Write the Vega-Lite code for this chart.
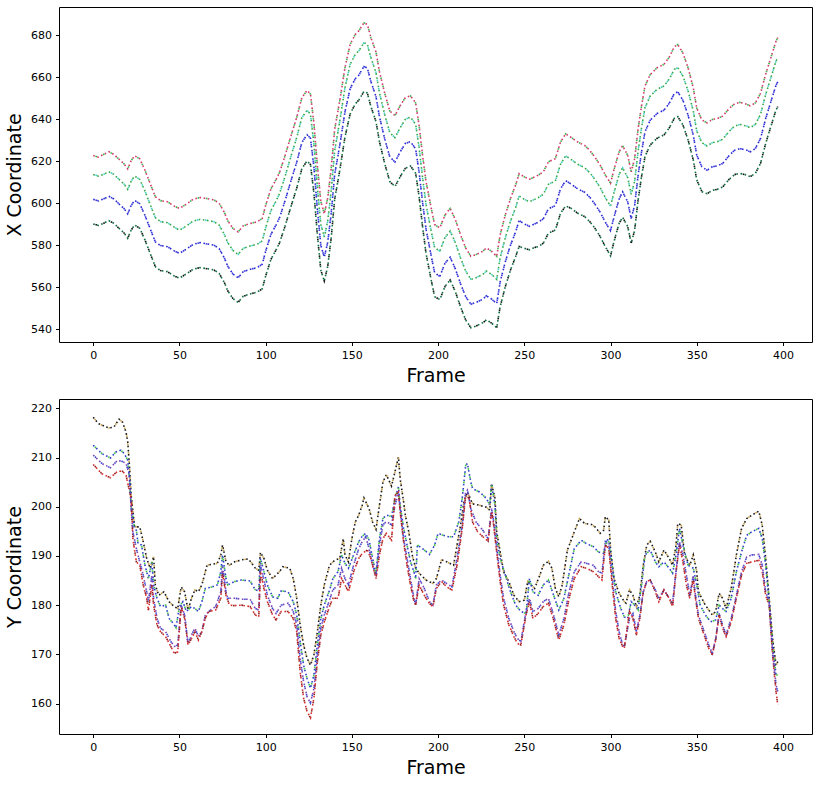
{"$schema":"https://vega.github.io/schema/vega-lite/v6.json","padding":{"left":5,"top":6,"right":12,"bottom":0},"spacing":12,
"config":{"view":{"stroke":"#000","strokeWidth":1},"font":"DejaVu Sans","axis":{"labelFont":"DejaVu Sans","titleFont":"DejaVu Sans","labelFontSize":11,"titleFontSize":19,"titleFontWeight":"normal","labelColor":"#000","titleColor":"#000","tickColor":"#000","tickSize":3.5,"domain":false,"grid":false,"labelPadding":4,"titlePadding":6}},
"datasets":{"top":[
{"s":"L2","f":0,"v":613.8},{"s":"L2","f":3,"v":613.0},{"s":"L2","f":6,"v":613.8},{"s":"L2","f":9,"v":615.1},{"s":"L2","f":12,"v":613.8},{"s":"L2","f":15,"v":611.4},{"s":"L2","f":18,"v":609.1},{"s":"L2","f":20,"v":606.7},{"s":"L2","f":22,"v":610.6},{"s":"L2","f":24,"v":613.0},{"s":"L2","f":27,"v":611.4},{"s":"L2","f":30,"v":605.9},{"s":"L2","f":33,"v":599.5},{"s":"L2","f":36,"v":593.2},{"s":"L2","f":39,"v":591.3},{"s":"L2","f":43,"v":590.8},{"s":"L2","f":47,"v":588.7},{"s":"L2","f":50,"v":587.2},{"s":"L2","f":54,"v":589.2},{"s":"L2","f":58,"v":591.6},{"s":"L2","f":62,"v":592.4},{"s":"L2","f":66,"v":591.9},{"s":"L2","f":70,"v":591.3},{"s":"L2","f":73,"v":589.7},{"s":"L2","f":76,"v":585.3},{"s":"L2","f":78,"v":581.3},{"s":"L2","f":81,"v":577.6},{"s":"L2","f":84,"v":575.7},{"s":"L2","f":87,"v":578.6},{"s":"L2","f":91,"v":579.7},{"s":"L2","f":95,"v":580.5},{"s":"L2","f":98,"v":582.1},{"s":"L2","f":100,"v":588.4},{"s":"L2","f":103,"v":596.4},{"s":"L2","f":106,"v":601.1},{"s":"L2","f":108,"v":604.6},{"s":"L2","f":111,"v":612.2},{"s":"L2","f":115,"v":623.3},{"s":"L2","f":118,"v":631.3},{"s":"L2","f":121,"v":640.8},{"s":"L2","f":124,"v":644.3},{"s":"L2","f":126,"v":642.4},{"s":"L2","f":128,"v":628.1},{"s":"L2","f":130,"v":607.5},{"s":"L2","f":132,"v":590.0},{"s":"L2","f":134,"v":584.0},{"s":"L2","f":136,"v":591.6},{"s":"L2","f":138,"v":605.9},{"s":"L2","f":140,"v":624.9},{"s":"L2","f":143,"v":639.2},{"s":"L2","f":146,"v":655.1},{"s":"L2","f":149,"v":666.2},{"s":"L2","f":152,"v":671.0},{"s":"L2","f":154,"v":672.6},{"s":"L2","f":157,"v":676.5},{"s":"L2","f":159,"v":675.7},{"s":"L2","f":161,"v":669.4},{"s":"L2","f":164,"v":662.2},{"s":"L2","f":166,"v":652.7},{"s":"L2","f":169,"v":642.4},{"s":"L2","f":172,"v":633.7},{"s":"L2","f":175,"v":631.3},{"s":"L2","f":178,"v":636.0},{"s":"L2","f":181,"v":640.0},{"s":"L2","f":184,"v":641.1},{"s":"L2","f":187,"v":637.6},{"s":"L2","f":189,"v":626.5},{"s":"L2","f":191,"v":612.2},{"s":"L2","f":193,"v":599.5},{"s":"L2","f":196,"v":586.8},{"s":"L2","f":198,"v":578.9},{"s":"L2","f":201,"v":577.3},{"s":"L2","f":204,"v":583.7},{"s":"L2","f":207,"v":586.8},{"s":"L2","f":210,"v":581.3},{"s":"L2","f":213,"v":574.1},{"s":"L2","f":216,"v":567.8},{"s":"L2","f":219,"v":563.8},{"s":"L2","f":222,"v":564.6},{"s":"L2","f":226,"v":566.2},{"s":"L2","f":228,"v":567.8},{"s":"L2","f":231,"v":566.2},{"s":"L2","f":234,"v":563.8},{"s":"L2","f":236,"v":574.1},{"s":"L2","f":239,"v":583.7},{"s":"L2","f":242,"v":591.6},{"s":"L2","f":245,"v":598.0},{"s":"L2","f":247,"v":603.5},{"s":"L2","f":250,"v":601.9},{"s":"L2","f":253,"v":600.8},{"s":"L2","f":256,"v":601.9},{"s":"L2","f":258,"v":602.7},{"s":"L2","f":261,"v":604.3},{"s":"L2","f":264,"v":609.1},{"s":"L2","f":268,"v":610.6},{"s":"L2","f":271,"v":618.6},{"s":"L2","f":274,"v":622.6},{"s":"L2","f":277,"v":621.0},{"s":"L2","f":281,"v":618.6},{"s":"L2","f":285,"v":617.0},{"s":"L2","f":288,"v":614.6},{"s":"L2","f":291,"v":611.4},{"s":"L2","f":294,"v":607.5},{"s":"L2","f":297,"v":602.7},{"s":"L2","f":300,"v":598.7},{"s":"L2","f":302,"v":605.1},{"s":"L2","f":305,"v":613.8},{"s":"L2","f":307,"v":617.0},{"s":"L2","f":310,"v":612.2},{"s":"L2","f":312,"v":604.3},{"s":"L2","f":314,"v":610.6},{"s":"L2","f":316,"v":624.9},{"s":"L2","f":318,"v":636.0},{"s":"L2","f":320,"v":645.6},{"s":"L2","f":323,"v":651.1},{"s":"L2","f":327,"v":654.3},{"s":"L2","f":331,"v":655.9},{"s":"L2","f":334,"v":659.1},{"s":"L2","f":337,"v":663.8},{"s":"L2","f":339,"v":664.6},{"s":"L2","f":342,"v":660.6},{"s":"L2","f":345,"v":653.5},{"s":"L2","f":348,"v":644.0},{"s":"L2","f":350,"v":634.5},{"s":"L2","f":353,"v":628.9},{"s":"L2","f":356,"v":627.3},{"s":"L2","f":359,"v":628.9},{"s":"L2","f":362,"v":629.4},{"s":"L2","f":365,"v":630.5},{"s":"L2","f":369,"v":634.5},{"s":"L2","f":372,"v":636.8},{"s":"L2","f":375,"v":637.6},{"s":"L2","f":379,"v":636.8},{"s":"L2","f":381,"v":636.0},{"s":"L2","f":384,"v":637.6},{"s":"L2","f":387,"v":642.4},{"s":"L2","f":390,"v":651.9},{"s":"L2","f":393,"v":659.9},{"s":"L2","f":396,"v":667.8},{"s":"L2","f":397,"v":669.4},
{"s":"L1","f":0,"v":622.8},{"s":"L1","f":3,"v":622.0},{"s":"L1","f":6,"v":623.3},{"s":"L1","f":9,"v":624.6},{"s":"L1","f":12,"v":623.3},{"s":"L1","f":15,"v":621.0},{"s":"L1","f":18,"v":618.7},{"s":"L1","f":20,"v":616.4},{"s":"L1","f":22,"v":620.3},{"s":"L1","f":24,"v":622.7},{"s":"L1","f":27,"v":621.2},{"s":"L1","f":30,"v":615.8},{"s":"L1","f":33,"v":609.5},{"s":"L1","f":36,"v":603.2},{"s":"L1","f":39,"v":601.3},{"s":"L1","f":43,"v":600.8},{"s":"L1","f":47,"v":598.7},{"s":"L1","f":50,"v":597.6},{"s":"L1","f":54,"v":599.6},{"s":"L1","f":58,"v":602.0},{"s":"L1","f":62,"v":602.8},{"s":"L1","f":66,"v":602.3},{"s":"L1","f":70,"v":601.7},{"s":"L1","f":73,"v":600.1},{"s":"L1","f":76,"v":595.8},{"s":"L1","f":78,"v":591.8},{"s":"L1","f":81,"v":588.1},{"s":"L1","f":84,"v":586.4},{"s":"L1","f":87,"v":589.3},{"s":"L1","f":91,"v":590.4},{"s":"L1","f":95,"v":591.2},{"s":"L1","f":98,"v":592.8},{"s":"L1","f":100,"v":599.0},{"s":"L1","f":103,"v":606.8},{"s":"L1","f":106,"v":611.3},{"s":"L1","f":108,"v":614.6},{"s":"L1","f":111,"v":622.0},{"s":"L1","f":115,"v":633.0},{"s":"L1","f":118,"v":640.9},{"s":"L1","f":121,"v":650.3},{"s":"L1","f":124,"v":653.8},{"s":"L1","f":126,"v":652.0},{"s":"L1","f":128,"v":638.0},{"s":"L1","f":130,"v":617.9},{"s":"L1","f":132,"v":600.9},{"s":"L1","f":134,"v":595.0},{"s":"L1","f":136,"v":602.6},{"s":"L1","f":138,"v":616.5},{"s":"L1","f":140,"v":635.2},{"s":"L1","f":143,"v":649.0},{"s":"L1","f":146,"v":664.6},{"s":"L1","f":149,"v":675.7},{"s":"L1","f":152,"v":680.5},{"s":"L1","f":154,"v":682.1},{"s":"L1","f":157,"v":686.0},{"s":"L1","f":159,"v":685.2},{"s":"L1","f":161,"v":679.0},{"s":"L1","f":164,"v":672.0},{"s":"L1","f":166,"v":662.7},{"s":"L1","f":169,"v":652.6},{"s":"L1","f":172,"v":644.0},{"s":"L1","f":175,"v":641.8},{"s":"L1","f":178,"v":646.5},{"s":"L1","f":181,"v":650.3},{"s":"L1","f":184,"v":651.2},{"s":"L1","f":187,"v":647.8},{"s":"L1","f":189,"v":637.0},{"s":"L1","f":191,"v":622.9},{"s":"L1","f":193,"v":610.4},{"s":"L1","f":196,"v":597.8},{"s":"L1","f":198,"v":589.9},{"s":"L1","f":201,"v":588.3},{"s":"L1","f":204,"v":594.5},{"s":"L1","f":207,"v":597.6},{"s":"L1","f":210,"v":592.3},{"s":"L1","f":213,"v":585.1},{"s":"L1","f":216,"v":578.8},{"s":"L1","f":219,"v":574.8},{"s":"L1","f":222,"v":575.6},{"s":"L1","f":226,"v":577.2},{"s":"L1","f":228,"v":578.8},{"s":"L1","f":231,"v":577.2},{"s":"L1","f":234,"v":574.8},{"s":"L1","f":236,"v":585.0},{"s":"L1","f":239,"v":594.6},{"s":"L1","f":242,"v":602.4},{"s":"L1","f":245,"v":608.8},{"s":"L1","f":247,"v":614.2},{"s":"L1","f":250,"v":612.6},{"s":"L1","f":253,"v":611.5},{"s":"L1","f":256,"v":612.6},{"s":"L1","f":258,"v":613.4},{"s":"L1","f":261,"v":615.0},{"s":"L1","f":264,"v":619.8},{"s":"L1","f":268,"v":621.3},{"s":"L1","f":271,"v":629.2},{"s":"L1","f":274,"v":633.1},{"s":"L1","f":277,"v":631.5},{"s":"L1","f":281,"v":629.2},{"s":"L1","f":285,"v":627.6},{"s":"L1","f":288,"v":625.2},{"s":"L1","f":291,"v":622.0},{"s":"L1","f":294,"v":618.2},{"s":"L1","f":297,"v":613.5},{"s":"L1","f":300,"v":609.6},{"s":"L1","f":302,"v":616.0},{"s":"L1","f":305,"v":624.5},{"s":"L1","f":307,"v":627.5},{"s":"L1","f":310,"v":622.8},{"s":"L1","f":312,"v":615.0},{"s":"L1","f":314,"v":621.3},{"s":"L1","f":316,"v":635.5},{"s":"L1","f":318,"v":646.4},{"s":"L1","f":320,"v":655.9},{"s":"L1","f":323,"v":661.3},{"s":"L1","f":327,"v":664.6},{"s":"L1","f":331,"v":666.2},{"s":"L1","f":334,"v":669.5},{"s":"L1","f":337,"v":674.6},{"s":"L1","f":339,"v":675.6},{"s":"L1","f":342,"v":671.6},{"s":"L1","f":345,"v":664.5},{"s":"L1","f":348,"v":655.0},{"s":"L1","f":350,"v":645.4},{"s":"L1","f":353,"v":639.7},{"s":"L1","f":356,"v":638.3},{"s":"L1","f":359,"v":639.9},{"s":"L1","f":362,"v":640.4},{"s":"L1","f":365,"v":641.5},{"s":"L1","f":369,"v":645.3},{"s":"L1","f":372,"v":647.4},{"s":"L1","f":375,"v":648.1},{"s":"L1","f":379,"v":647.2},{"s":"L1","f":381,"v":646.4},{"s":"L1","f":384,"v":647.8},{"s":"L1","f":387,"v":652.4},{"s":"L1","f":390,"v":661.6},{"s":"L1","f":393,"v":669.4},{"s":"L1","f":396,"v":677.3},{"s":"L1","f":397,"v":678.9},
{"s":"L3","f":0,"v":601.9},{"s":"L3","f":3,"v":601.2},{"s":"L3","f":6,"v":602.1},{"s":"L3","f":9,"v":603.4},{"s":"L3","f":12,"v":602.1},{"s":"L3","f":15,"v":599.7},{"s":"L3","f":18,"v":597.4},{"s":"L3","f":20,"v":595.0},{"s":"L3","f":22,"v":599.0},{"s":"L3","f":24,"v":601.4},{"s":"L3","f":27,"v":599.8},{"s":"L3","f":30,"v":594.3},{"s":"L3","f":33,"v":588.0},{"s":"L3","f":36,"v":581.7},{"s":"L3","f":39,"v":579.9},{"s":"L3","f":43,"v":579.4},{"s":"L3","f":47,"v":577.4},{"s":"L3","f":50,"v":576.2},{"s":"L3","f":54,"v":578.2},{"s":"L3","f":58,"v":580.5},{"s":"L3","f":62,"v":581.3},{"s":"L3","f":66,"v":580.7},{"s":"L3","f":70,"v":580.1},{"s":"L3","f":73,"v":578.5},{"s":"L3","f":76,"v":574.1},{"s":"L3","f":78,"v":570.1},{"s":"L3","f":81,"v":566.4},{"s":"L3","f":84,"v":564.6},{"s":"L3","f":87,"v":567.5},{"s":"L3","f":91,"v":568.6},{"s":"L3","f":95,"v":569.4},{"s":"L3","f":98,"v":571.0},{"s":"L3","f":100,"v":577.2},{"s":"L3","f":103,"v":585.1},{"s":"L3","f":106,"v":589.7},{"s":"L3","f":108,"v":593.1},{"s":"L3","f":111,"v":600.6},{"s":"L3","f":115,"v":611.6},{"s":"L3","f":118,"v":619.5},{"s":"L3","f":121,"v":629.0},{"s":"L3","f":124,"v":632.7},{"s":"L3","f":126,"v":631.0},{"s":"L3","f":128,"v":617.2},{"s":"L3","f":130,"v":597.0},{"s":"L3","f":132,"v":580.0},{"s":"L3","f":134,"v":574.4},{"s":"L3","f":136,"v":581.5},{"s":"L3","f":138,"v":595.1},{"s":"L3","f":140,"v":613.7},{"s":"L3","f":143,"v":627.7},{"s":"L3","f":146,"v":643.6},{"s":"L3","f":149,"v":654.6},{"s":"L3","f":152,"v":659.4},{"s":"L3","f":154,"v":661.0},{"s":"L3","f":157,"v":665.2},{"s":"L3","f":159,"v":664.4},{"s":"L3","f":161,"v":658.1},{"s":"L3","f":164,"v":650.8},{"s":"L3","f":166,"v":641.3},{"s":"L3","f":169,"v":630.9},{"s":"L3","f":172,"v":622.1},{"s":"L3","f":175,"v":619.7},{"s":"L3","f":178,"v":624.5},{"s":"L3","f":181,"v":628.5},{"s":"L3","f":184,"v":629.4},{"s":"L3","f":187,"v":625.9},{"s":"L3","f":189,"v":614.8},{"s":"L3","f":191,"v":600.5},{"s":"L3","f":193,"v":587.8},{"s":"L3","f":196,"v":575.0},{"s":"L3","f":198,"v":567.0},{"s":"L3","f":201,"v":565.2},{"s":"L3","f":204,"v":571.5},{"s":"L3","f":207,"v":574.4},{"s":"L3","f":210,"v":568.8},{"s":"L3","f":213,"v":561.8},{"s":"L3","f":216,"v":555.6},{"s":"L3","f":219,"v":552.0},{"s":"L3","f":222,"v":552.8},{"s":"L3","f":226,"v":554.4},{"s":"L3","f":228,"v":556.0},{"s":"L3","f":231,"v":554.5},{"s":"L3","f":234,"v":552.3},{"s":"L3","f":236,"v":562.6},{"s":"L3","f":239,"v":572.2},{"s":"L3","f":242,"v":580.1},{"s":"L3","f":245,"v":586.5},{"s":"L3","f":247,"v":591.8},{"s":"L3","f":250,"v":590.2},{"s":"L3","f":253,"v":589.1},{"s":"L3","f":256,"v":590.2},{"s":"L3","f":258,"v":591.0},{"s":"L3","f":261,"v":592.6},{"s":"L3","f":264,"v":597.4},{"s":"L3","f":268,"v":598.9},{"s":"L3","f":271,"v":606.9},{"s":"L3","f":274,"v":610.8},{"s":"L3","f":277,"v":609.3},{"s":"L3","f":281,"v":606.9},{"s":"L3","f":285,"v":605.3},{"s":"L3","f":288,"v":602.9},{"s":"L3","f":291,"v":599.6},{"s":"L3","f":294,"v":595.8},{"s":"L3","f":297,"v":591.0},{"s":"L3","f":300,"v":587.0},{"s":"L3","f":302,"v":593.4},{"s":"L3","f":305,"v":602.1},{"s":"L3","f":307,"v":605.5},{"s":"L3","f":310,"v":600.7},{"s":"L3","f":312,"v":592.8},{"s":"L3","f":314,"v":599.1},{"s":"L3","f":316,"v":613.4},{"s":"L3","f":318,"v":624.5},{"s":"L3","f":320,"v":634.1},{"s":"L3","f":323,"v":639.6},{"s":"L3","f":327,"v":642.8},{"s":"L3","f":331,"v":644.4},{"s":"L3","f":334,"v":647.6},{"s":"L3","f":337,"v":652.3},{"s":"L3","f":339,"v":653.1},{"s":"L3","f":342,"v":649.1},{"s":"L3","f":345,"v":642.0},{"s":"L3","f":348,"v":632.5},{"s":"L3","f":350,"v":623.0},{"s":"L3","f":353,"v":617.4},{"s":"L3","f":356,"v":615.8},{"s":"L3","f":359,"v":617.4},{"s":"L3","f":362,"v":617.9},{"s":"L3","f":365,"v":619.0},{"s":"L3","f":369,"v":623.0},{"s":"L3","f":372,"v":625.3},{"s":"L3","f":375,"v":626.1},{"s":"L3","f":379,"v":625.3},{"s":"L3","f":381,"v":624.5},{"s":"L3","f":384,"v":626.1},{"s":"L3","f":387,"v":630.9},{"s":"L3","f":390,"v":640.4},{"s":"L3","f":393,"v":648.4},{"s":"L3","f":396,"v":656.3},{"s":"L3","f":397,"v":657.9},
{"s":"L4","f":0,"v":590.2},{"s":"L4","f":3,"v":589.5},{"s":"L4","f":6,"v":590.5},{"s":"L4","f":9,"v":591.8},{"s":"L4","f":12,"v":590.5},{"s":"L4","f":15,"v":588.1},{"s":"L4","f":18,"v":585.8},{"s":"L4","f":20,"v":583.4},{"s":"L4","f":22,"v":587.3},{"s":"L4","f":24,"v":589.7},{"s":"L4","f":27,"v":588.1},{"s":"L4","f":30,"v":582.6},{"s":"L4","f":33,"v":576.2},{"s":"L4","f":36,"v":569.9},{"s":"L4","f":39,"v":568.0},{"s":"L4","f":43,"v":567.5},{"s":"L4","f":47,"v":565.4},{"s":"L4","f":50,"v":564.4},{"s":"L4","f":54,"v":566.4},{"s":"L4","f":58,"v":568.7},{"s":"L4","f":62,"v":569.4},{"s":"L4","f":66,"v":568.9},{"s":"L4","f":70,"v":568.3},{"s":"L4","f":73,"v":566.7},{"s":"L4","f":76,"v":562.4},{"s":"L4","f":78,"v":558.4},{"s":"L4","f":81,"v":554.7},{"s":"L4","f":84,"v":552.9},{"s":"L4","f":87,"v":555.8},{"s":"L4","f":91,"v":556.9},{"s":"L4","f":95,"v":557.7},{"s":"L4","f":98,"v":559.3},{"s":"L4","f":100,"v":565.4},{"s":"L4","f":103,"v":573.3},{"s":"L4","f":106,"v":577.8},{"s":"L4","f":108,"v":581.1},{"s":"L4","f":111,"v":588.5},{"s":"L4","f":115,"v":599.4},{"s":"L4","f":118,"v":607.2},{"s":"L4","f":121,"v":616.5},{"s":"L4","f":124,"v":620.2},{"s":"L4","f":126,"v":618.5},{"s":"L4","f":128,"v":604.8},{"s":"L4","f":130,"v":585.0},{"s":"L4","f":132,"v":568.2},{"s":"L4","f":134,"v":563.0},{"s":"L4","f":136,"v":570.0},{"s":"L4","f":138,"v":583.5},{"s":"L4","f":140,"v":601.8},{"s":"L4","f":143,"v":615.8},{"s":"L4","f":146,"v":631.6},{"s":"L4","f":149,"v":642.6},{"s":"L4","f":152,"v":647.4},{"s":"L4","f":154,"v":649.1},{"s":"L4","f":157,"v":653.3},{"s":"L4","f":159,"v":652.5},{"s":"L4","f":161,"v":646.2},{"s":"L4","f":164,"v":638.9},{"s":"L4","f":166,"v":629.4},{"s":"L4","f":169,"v":619.1},{"s":"L4","f":172,"v":610.4},{"s":"L4","f":175,"v":608.0},{"s":"L4","f":178,"v":612.7},{"s":"L4","f":181,"v":616.7},{"s":"L4","f":184,"v":617.8},{"s":"L4","f":187,"v":614.3},{"s":"L4","f":189,"v":603.2},{"s":"L4","f":191,"v":588.9},{"s":"L4","f":193,"v":576.2},{"s":"L4","f":196,"v":563.5},{"s":"L4","f":198,"v":555.6},{"s":"L4","f":201,"v":554.2},{"s":"L4","f":204,"v":560.4},{"s":"L4","f":207,"v":563.5},{"s":"L4","f":210,"v":558.0},{"s":"L4","f":213,"v":550.8},{"s":"L4","f":216,"v":544.5},{"s":"L4","f":219,"v":540.8},{"s":"L4","f":222,"v":541.6},{"s":"L4","f":226,"v":543.2},{"s":"L4","f":228,"v":544.6},{"s":"L4","f":231,"v":543.0},{"s":"L4","f":234,"v":540.8},{"s":"L4","f":236,"v":550.8},{"s":"L4","f":239,"v":560.4},{"s":"L4","f":242,"v":568.3},{"s":"L4","f":245,"v":574.7},{"s":"L4","f":247,"v":579.5},{"s":"L4","f":250,"v":578.6},{"s":"L4","f":253,"v":577.9},{"s":"L4","f":256,"v":579.0},{"s":"L4","f":258,"v":579.4},{"s":"L4","f":261,"v":581.0},{"s":"L4","f":264,"v":585.8},{"s":"L4","f":268,"v":587.3},{"s":"L4","f":271,"v":595.3},{"s":"L4","f":274,"v":598.8},{"s":"L4","f":277,"v":597.7},{"s":"L4","f":281,"v":595.3},{"s":"L4","f":285,"v":593.7},{"s":"L4","f":288,"v":591.3},{"s":"L4","f":291,"v":588.1},{"s":"L4","f":294,"v":584.2},{"s":"L4","f":297,"v":579.4},{"s":"L4","f":300,"v":575.0},{"s":"L4","f":302,"v":581.8},{"s":"L4","f":305,"v":590.5},{"s":"L4","f":307,"v":593.4},{"s":"L4","f":310,"v":588.9},{"s":"L4","f":312,"v":581.0},{"s":"L4","f":314,"v":587.3},{"s":"L4","f":316,"v":601.6},{"s":"L4","f":318,"v":612.7},{"s":"L4","f":320,"v":622.3},{"s":"L4","f":323,"v":627.8},{"s":"L4","f":327,"v":631.0},{"s":"L4","f":331,"v":632.6},{"s":"L4","f":334,"v":635.8},{"s":"L4","f":337,"v":640.5},{"s":"L4","f":339,"v":641.3},{"s":"L4","f":342,"v":637.3},{"s":"L4","f":345,"v":630.2},{"s":"L4","f":348,"v":620.7},{"s":"L4","f":350,"v":611.2},{"s":"L4","f":353,"v":605.6},{"s":"L4","f":356,"v":604.6},{"s":"L4","f":359,"v":606.2},{"s":"L4","f":362,"v":606.7},{"s":"L4","f":365,"v":607.8},{"s":"L4","f":369,"v":611.6},{"s":"L4","f":372,"v":613.7},{"s":"L4","f":375,"v":614.3},{"s":"L4","f":379,"v":613.5},{"s":"L4","f":381,"v":612.7},{"s":"L4","f":384,"v":614.3},{"s":"L4","f":387,"v":619.1},{"s":"L4","f":390,"v":628.6},{"s":"L4","f":393,"v":636.6},{"s":"L4","f":396,"v":644.5},{"s":"L4","f":397,"v":646.1}
],
"bot":[
{"s":"K","f":0,"v":218.2},{"s":"K","f":3,"v":216.9},{"s":"K","f":9,"v":216.0},{"s":"K","f":12,"v":216.2},{"s":"K","f":15,"v":217.8},{"s":"K","f":17,"v":217.2},{"s":"K","f":19,"v":215.2},{"s":"K","f":20,"v":213.2},{"s":"K","f":21,"v":208.4},{"s":"K","f":22,"v":202.3},{"s":"K","f":24,"v":195.9},{"s":"K","f":27,"v":195.9},{"s":"K","f":29,"v":192.9},{"s":"K","f":31,"v":189.5},{"s":"K","f":33,"v":187.5},{"s":"K","f":35,"v":189.8},{"s":"K","f":36,"v":184.1},{"s":"K","f":38,"v":182.0},{"s":"K","f":41,"v":182.7},{"s":"K","f":44,"v":180.7},{"s":"K","f":47,"v":179.7},{"s":"K","f":49,"v":179.3},{"s":"K","f":51,"v":183.7},{"s":"K","f":53,"v":182.7},{"s":"K","f":55,"v":179.0},{"s":"K","f":57,"v":181.4},{"s":"K","f":59,"v":183.1},{"s":"K","f":61,"v":182.7},{"s":"K","f":63,"v":184.1},{"s":"K","f":66,"v":188.1},{"s":"K","f":69,"v":188.3},{"s":"K","f":72,"v":188.5},{"s":"K","f":74,"v":190.2},{"s":"K","f":75,"v":192.2},{"s":"K","f":77,"v":188.8},{"s":"K","f":79,"v":188.1},{"s":"K","f":82,"v":188.8},{"s":"K","f":86,"v":189.2},{"s":"K","f":90,"v":189.4},{"s":"K","f":92,"v":188.5},{"s":"K","f":94,"v":187.5},{"s":"K","f":96,"v":187.1},{"s":"K","f":97,"v":190.7},{"s":"K","f":99,"v":189.5},{"s":"K","f":101,"v":187.1},{"s":"K","f":104,"v":185.4},{"s":"K","f":108,"v":186.8},{"s":"K","f":110,"v":187.8},{"s":"K","f":114,"v":187.5},{"s":"K","f":116,"v":185.4},{"s":"K","f":118,"v":181.4},{"s":"K","f":120,"v":176.0},{"s":"K","f":122,"v":171.9},{"s":"K","f":124,"v":169.2},{"s":"K","f":126,"v":167.8},{"s":"K","f":128,"v":169.9},{"s":"K","f":130,"v":174.6},{"s":"K","f":132,"v":180.0},{"s":"K","f":134,"v":184.1},{"s":"K","f":137,"v":188.1},{"s":"K","f":140,"v":189.1},{"s":"K","f":143,"v":189.5},{"s":"K","f":145,"v":193.5},{"s":"K","f":146,"v":190.2},{"s":"K","f":148,"v":188.8},{"s":"K","f":150,"v":193.5},{"s":"K","f":152,"v":196.9},{"s":"K","f":154,"v":198.3},{"s":"K","f":156,"v":200.3},{"s":"K","f":157,"v":201.8},{"s":"K","f":160,"v":199.6},{"s":"K","f":162,"v":196.9},{"s":"K","f":164,"v":195.4},{"s":"K","f":166,"v":200.3},{"s":"K","f":168,"v":205.0},{"s":"K","f":170,"v":206.5},{"s":"K","f":173,"v":204.2},{"s":"K","f":175,"v":207.1},{"s":"K","f":177,"v":210.1},{"s":"K","f":178,"v":205.7},{"s":"K","f":180,"v":201.0},{"s":"K","f":181,"v":198.3},{"s":"K","f":183,"v":194.9},{"s":"K","f":185,"v":190.2},{"s":"K","f":187,"v":187.5},{"s":"K","f":189,"v":186.5},{"s":"K","f":193,"v":185.1},{"s":"K","f":197,"v":184.4},{"s":"K","f":199,"v":185.4},{"s":"K","f":202,"v":189.2},{"s":"K","f":205,"v":188.8},{"s":"K","f":209,"v":188.1},{"s":"K","f":211,"v":192.2},{"s":"K","f":213,"v":196.2},{"s":"K","f":215,"v":201.0},{"s":"K","f":217,"v":203.0},{"s":"K","f":220,"v":200.6},{"s":"K","f":224,"v":200.3},{"s":"K","f":228,"v":199.9},{"s":"K","f":230,"v":199.3},{"s":"K","f":231,"v":204.7},{"s":"K","f":233,"v":201.7},{"s":"K","f":234,"v":194.9},{"s":"K","f":236,"v":190.8},{"s":"K","f":238,"v":186.8},{"s":"K","f":241,"v":184.8},{"s":"K","f":244,"v":182.0},{"s":"K","f":247,"v":180.7},{"s":"K","f":250,"v":181.0},{"s":"K","f":252,"v":184.8},{"s":"K","f":254,"v":184.1},{"s":"K","f":256,"v":183.4},{"s":"K","f":259,"v":186.1},{"s":"K","f":261,"v":188.1},{"s":"K","f":264,"v":188.9},{"s":"K","f":266,"v":187.5},{"s":"K","f":268,"v":183.4},{"s":"K","f":270,"v":181.7},{"s":"K","f":272,"v":184.1},{"s":"K","f":275,"v":191.2},{"s":"K","f":279,"v":194.9},{"s":"K","f":282,"v":197.6},{"s":"K","f":285,"v":196.6},{"s":"K","f":289,"v":196.4},{"s":"K","f":291,"v":195.9},{"s":"K","f":294,"v":194.6},{"s":"K","f":296,"v":195.2},{"s":"K","f":297,"v":198.0},{"s":"K","f":299,"v":197.3},{"s":"K","f":300,"v":191.5},{"s":"K","f":302,"v":185.4},{"s":"K","f":305,"v":182.4},{"s":"K","f":308,"v":180.7},{"s":"K","f":309,"v":180.4},{"s":"K","f":311,"v":183.1},{"s":"K","f":313,"v":182.0},{"s":"K","f":315,"v":179.7},{"s":"K","f":317,"v":182.0},{"s":"K","f":319,"v":188.1},{"s":"K","f":321,"v":192.2},{"s":"K","f":323,"v":193.0},{"s":"K","f":326,"v":190.8},{"s":"K","f":328,"v":188.8},{"s":"K","f":331,"v":191.2},{"s":"K","f":334,"v":189.5},{"s":"K","f":336,"v":188.1},{"s":"K","f":338,"v":192.2},{"s":"K","f":339,"v":196.6},{"s":"K","f":341,"v":196.3},{"s":"K","f":343,"v":190.2},{"s":"K","f":346,"v":188.1},{"s":"K","f":348,"v":190.2},{"s":"K","f":350,"v":186.8},{"s":"K","f":351,"v":182.7},{"s":"K","f":355,"v":180.0},{"s":"K","f":359,"v":178.0},{"s":"K","f":361,"v":178.7},{"s":"K","f":363,"v":182.4},{"s":"K","f":365,"v":181.4},{"s":"K","f":367,"v":179.3},{"s":"K","f":370,"v":183.4},{"s":"K","f":373,"v":190.2},{"s":"K","f":376,"v":195.6},{"s":"K","f":379,"v":197.6},{"s":"K","f":382,"v":198.3},{"s":"K","f":386,"v":199.1},{"s":"K","f":388,"v":196.2},{"s":"K","f":390,"v":189.5},{"s":"K","f":392,"v":181.4},{"s":"K","f":394,"v":173.2},{"s":"K","f":396,"v":167.8},{"s":"K","f":397,"v":168.5},
{"s":"B","f":0,"v":212.5},{"s":"B","f":5,"v":210.8},{"s":"B","f":10,"v":209.9},{"s":"B","f":13,"v":211.1},{"s":"B","f":16,"v":211.5},{"s":"B","f":18,"v":210.8},{"s":"B","f":20,"v":209.5},{"s":"B","f":21,"v":205.7},{"s":"B","f":22,"v":200.3},{"s":"B","f":24,"v":195.6},{"s":"B","f":25,"v":195.2},{"s":"B","f":26,"v":192.5},{"s":"B","f":28,"v":192.2},{"s":"B","f":30,"v":188.1},{"s":"B","f":32,"v":185.4},{"s":"B","f":34,"v":188.8},{"s":"B","f":35,"v":184.1},{"s":"B","f":37,"v":181.4},{"s":"B","f":39,"v":179.7},{"s":"B","f":42,"v":180.0},{"s":"B","f":44,"v":177.3},{"s":"B","f":47,"v":176.0},{"s":"B","f":48,"v":175.4},{"s":"B","f":50,"v":179.7},{"s":"B","f":52,"v":180.7},{"s":"B","f":54,"v":178.7},{"s":"B","f":57,"v":179.7},{"s":"B","f":59,"v":179.3},{"s":"B","f":61,"v":178.7},{"s":"B","f":63,"v":180.7},{"s":"B","f":65,"v":183.4},{"s":"B","f":69,"v":183.7},{"s":"B","f":72,"v":184.1},{"s":"B","f":74,"v":186.8},{"s":"B","f":75,"v":190.2},{"s":"B","f":77,"v":185.4},{"s":"B","f":78,"v":184.1},{"s":"B","f":82,"v":184.8},{"s":"B","f":86,"v":185.1},{"s":"B","f":91,"v":184.9},{"s":"B","f":94,"v":183.1},{"s":"B","f":96,"v":182.9},{"s":"B","f":97,"v":189.5},{"s":"B","f":99,"v":186.8},{"s":"B","f":101,"v":184.1},{"s":"B","f":104,"v":181.7},{"s":"B","f":107,"v":181.4},{"s":"B","f":109,"v":182.9},{"s":"B","f":113,"v":182.7},{"s":"B","f":116,"v":180.7},{"s":"B","f":118,"v":178.0},{"s":"B","f":120,"v":172.6},{"s":"B","f":122,"v":167.8},{"s":"B","f":124,"v":165.1},{"s":"B","f":126,"v":163.1},{"s":"B","f":128,"v":165.8},{"s":"B","f":130,"v":171.9},{"s":"B","f":132,"v":177.3},{"s":"B","f":134,"v":180.0},{"s":"B","f":137,"v":183.0},{"s":"B","f":139,"v":185.4},{"s":"B","f":142,"v":186.8},{"s":"B","f":144,"v":190.2},{"s":"B","f":146,"v":188.5},{"s":"B","f":148,"v":187.5},{"s":"B","f":151,"v":190.2},{"s":"B","f":154,"v":192.9},{"s":"B","f":156,"v":194.0},{"s":"B","f":158,"v":194.6},{"s":"B","f":160,"v":193.2},{"s":"B","f":162,"v":189.5},{"s":"B","f":164,"v":186.4},{"s":"B","f":166,"v":193.5},{"s":"B","f":168,"v":197.6},{"s":"B","f":170,"v":198.3},{"s":"B","f":173,"v":198.0},{"s":"B","f":175,"v":201.7},{"s":"B","f":177,"v":204.0},{"s":"B","f":178,"v":200.3},{"s":"B","f":180,"v":195.6},{"s":"B","f":182,"v":192.2},{"s":"B","f":184,"v":188.8},{"s":"B","f":186,"v":186.8},{"s":"B","f":187,"v":185.4},{"s":"B","f":188,"v":192.2},{"s":"B","f":191,"v":191.5},{"s":"B","f":195,"v":190.3},{"s":"B","f":198,"v":192.2},{"s":"B","f":200,"v":194.6},{"s":"B","f":203,"v":194.2},{"s":"B","f":206,"v":193.9},{"s":"B","f":209,"v":193.9},{"s":"B","f":212,"v":196.9},{"s":"B","f":214,"v":201.7},{"s":"B","f":216,"v":208.4},{"s":"B","f":217,"v":208.8},{"s":"B","f":219,"v":205.0},{"s":"B","f":220,"v":203.7},{"s":"B","f":224,"v":203.0},{"s":"B","f":228,"v":201.7},{"s":"B","f":230,"v":200.3},{"s":"B","f":231,"v":204.5},{"s":"B","f":233,"v":200.3},{"s":"B","f":234,"v":193.5},{"s":"B","f":236,"v":189.5},{"s":"B","f":239,"v":186.1},{"s":"B","f":242,"v":182.7},{"s":"B","f":245,"v":180.0},{"s":"B","f":248,"v":178.7},{"s":"B","f":251,"v":178.3},{"s":"B","f":253,"v":185.4},{"s":"B","f":255,"v":182.7},{"s":"B","f":258,"v":182.0},{"s":"B","f":261,"v":184.1},{"s":"B","f":264,"v":185.1},{"s":"B","f":267,"v":182.0},{"s":"B","f":270,"v":179.0},{"s":"B","f":273,"v":181.4},{"s":"B","f":276,"v":186.5},{"s":"B","f":279,"v":191.5},{"s":"B","f":283,"v":193.2},{"s":"B","f":286,"v":192.5},{"s":"B","f":290,"v":191.9},{"s":"B","f":293,"v":190.8},{"s":"B","f":296,"v":190.5},{"s":"B","f":298,"v":193.5},{"s":"B","f":299,"v":192.9},{"s":"B","f":301,"v":188.1},{"s":"B","f":303,"v":182.7},{"s":"B","f":306,"v":179.3},{"s":"B","f":308,"v":177.6},{"s":"B","f":310,"v":177.3},{"s":"B","f":312,"v":180.7},{"s":"B","f":314,"v":180.0},{"s":"B","f":316,"v":179.0},{"s":"B","f":318,"v":184.1},{"s":"B","f":320,"v":190.2},{"s":"B","f":323,"v":191.2},{"s":"B","f":326,"v":188.8},{"s":"B","f":328,"v":187.8},{"s":"B","f":331,"v":188.8},{"s":"B","f":334,"v":187.5},{"s":"B","f":336,"v":186.5},{"s":"B","f":338,"v":190.2},{"s":"B","f":340,"v":195.6},{"s":"B","f":342,"v":192.2},{"s":"B","f":345,"v":188.1},{"s":"B","f":348,"v":187.5},{"s":"B","f":350,"v":184.1},{"s":"B","f":352,"v":180.0},{"s":"B","f":355,"v":178.0},{"s":"B","f":358,"v":176.6},{"s":"B","f":361,"v":177.0},{"s":"B","f":363,"v":180.0},{"s":"B","f":365,"v":179.3},{"s":"B","f":367,"v":178.7},{"s":"B","f":370,"v":181.4},{"s":"B","f":373,"v":186.8},{"s":"B","f":376,"v":190.8},{"s":"B","f":379,"v":194.2},{"s":"B","f":382,"v":194.9},{"s":"B","f":386,"v":195.6},{"s":"B","f":388,"v":193.5},{"s":"B","f":390,"v":188.1},{"s":"B","f":392,"v":180.7},{"s":"B","f":394,"v":171.9},{"s":"B","f":396,"v":165.8},{"s":"B","f":397,"v":165.8},
{"s":"P","f":0,"v":210.5},{"s":"P","f":5,"v":208.8},{"s":"P","f":10,"v":207.9},{"s":"P","f":14,"v":209.4},{"s":"P","f":17,"v":209.2},{"s":"P","f":19,"v":208.8},{"s":"P","f":21,"v":206.4},{"s":"P","f":22,"v":199.6},{"s":"P","f":23,"v":194.9},{"s":"P","f":25,"v":191.5},{"s":"P","f":27,"v":188.8},{"s":"P","f":29,"v":186.1},{"s":"P","f":31,"v":182.7},{"s":"P","f":32,"v":180.7},{"s":"P","f":34,"v":186.1},{"s":"P","f":35,"v":181.4},{"s":"P","f":37,"v":177.3},{"s":"P","f":39,"v":175.3},{"s":"P","f":42,"v":174.6},{"s":"P","f":45,"v":172.6},{"s":"P","f":47,"v":171.6},{"s":"P","f":49,"v":171.9},{"s":"P","f":51,"v":180.0},{"s":"P","f":53,"v":178.0},{"s":"P","f":55,"v":172.2},{"s":"P","f":57,"v":173.9},{"s":"P","f":59,"v":175.3},{"s":"P","f":61,"v":173.6},{"s":"P","f":63,"v":174.6},{"s":"P","f":65,"v":178.0},{"s":"P","f":68,"v":179.0},{"s":"P","f":71,"v":179.7},{"s":"P","f":74,"v":182.7},{"s":"P","f":75,"v":188.1},{"s":"P","f":77,"v":182.7},{"s":"P","f":78,"v":181.4},{"s":"P","f":82,"v":181.4},{"s":"P","f":86,"v":181.2},{"s":"P","f":91,"v":181.2},{"s":"P","f":94,"v":179.3},{"s":"P","f":96,"v":179.0},{"s":"P","f":97,"v":188.1},{"s":"P","f":99,"v":185.1},{"s":"P","f":101,"v":182.0},{"s":"P","f":104,"v":179.3},{"s":"P","f":106,"v":178.3},{"s":"P","f":109,"v":180.0},{"s":"P","f":113,"v":180.4},{"s":"P","f":116,"v":178.7},{"s":"P","f":118,"v":176.0},{"s":"P","f":120,"v":169.2},{"s":"P","f":122,"v":164.5},{"s":"P","f":124,"v":161.4},{"s":"P","f":126,"v":160.1},{"s":"P","f":128,"v":163.1},{"s":"P","f":130,"v":169.9},{"s":"P","f":132,"v":175.3},{"s":"P","f":134,"v":178.0},{"s":"P","f":137,"v":181.0},{"s":"P","f":139,"v":183.1},{"s":"P","f":142,"v":184.1},{"s":"P","f":144,"v":187.5},{"s":"P","f":146,"v":185.4},{"s":"P","f":148,"v":184.1},{"s":"P","f":151,"v":188.1},{"s":"P","f":154,"v":191.5},{"s":"P","f":156,"v":192.9},{"s":"P","f":158,"v":193.9},{"s":"P","f":160,"v":191.5},{"s":"P","f":162,"v":188.1},{"s":"P","f":164,"v":186.1},{"s":"P","f":166,"v":192.2},{"s":"P","f":168,"v":196.3},{"s":"P","f":170,"v":197.0},{"s":"P","f":173,"v":196.3},{"s":"P","f":175,"v":200.3},{"s":"P","f":177,"v":202.7},{"s":"P","f":178,"v":199.6},{"s":"P","f":180,"v":193.5},{"s":"P","f":182,"v":189.5},{"s":"P","f":184,"v":185.4},{"s":"P","f":186,"v":181.4},{"s":"P","f":187,"v":180.0},{"s":"P","f":189,"v":185.4},{"s":"P","f":192,"v":183.4},{"s":"P","f":195,"v":180.7},{"s":"P","f":197,"v":180.0},{"s":"P","f":199,"v":184.1},{"s":"P","f":202,"v":185.1},{"s":"P","f":205,"v":184.4},{"s":"P","f":208,"v":183.7},{"s":"P","f":211,"v":189.5},{"s":"P","f":214,"v":196.2},{"s":"P","f":216,"v":203.0},{"s":"P","f":217,"v":203.4},{"s":"P","f":219,"v":199.6},{"s":"P","f":222,"v":196.9},{"s":"P","f":226,"v":195.2},{"s":"P","f":229,"v":193.5},{"s":"P","f":231,"v":199.6},{"s":"P","f":232,"v":197.6},{"s":"P","f":234,"v":191.5},{"s":"P","f":236,"v":186.1},{"s":"P","f":238,"v":181.4},{"s":"P","f":241,"v":177.3},{"s":"P","f":244,"v":174.6},{"s":"P","f":246,"v":173.2},{"s":"P","f":248,"v":172.6},{"s":"P","f":251,"v":178.7},{"s":"P","f":253,"v":181.4},{"s":"P","f":255,"v":178.7},{"s":"P","f":258,"v":179.3},{"s":"P","f":261,"v":180.7},{"s":"P","f":264,"v":181.4},{"s":"P","f":267,"v":178.0},{"s":"P","f":270,"v":173.9},{"s":"P","f":273,"v":177.3},{"s":"P","f":276,"v":182.8},{"s":"P","f":279,"v":186.8},{"s":"P","f":283,"v":188.8},{"s":"P","f":286,"v":188.5},{"s":"P","f":290,"v":188.1},{"s":"P","f":293,"v":186.8},{"s":"P","f":295,"v":186.5},{"s":"P","f":297,"v":192.9},{"s":"P","f":299,"v":192.2},{"s":"P","f":301,"v":185.4},{"s":"P","f":303,"v":178.7},{"s":"P","f":305,"v":174.6},{"s":"P","f":307,"v":171.9},{"s":"P","f":308,"v":171.6},{"s":"P","f":311,"v":177.3},{"s":"P","f":313,"v":178.3},{"s":"P","f":315,"v":174.6},{"s":"P","f":317,"v":178.0},{"s":"P","f":319,"v":182.7},{"s":"P","f":321,"v":184.8},{"s":"P","f":323,"v":185.1},{"s":"P","f":326,"v":183.1},{"s":"P","f":328,"v":181.4},{"s":"P","f":331,"v":183.1},{"s":"P","f":334,"v":181.4},{"s":"P","f":336,"v":180.4},{"s":"P","f":338,"v":186.8},{"s":"P","f":340,"v":192.9},{"s":"P","f":342,"v":190.2},{"s":"P","f":344,"v":186.1},{"s":"P","f":346,"v":182.0},{"s":"P","f":348,"v":186.1},{"s":"P","f":349,"v":182.7},{"s":"P","f":351,"v":178.0},{"s":"P","f":355,"v":173.9},{"s":"P","f":357,"v":171.9},{"s":"P","f":359,"v":170.2},{"s":"P","f":361,"v":173.2},{"s":"P","f":363,"v":178.3},{"s":"P","f":365,"v":176.0},{"s":"P","f":367,"v":173.9},{"s":"P","f":370,"v":177.3},{"s":"P","f":373,"v":182.0},{"s":"P","f":376,"v":186.8},{"s":"P","f":379,"v":189.8},{"s":"P","f":382,"v":190.2},{"s":"P","f":386,"v":190.3},{"s":"P","f":388,"v":188.1},{"s":"P","f":390,"v":182.7},{"s":"P","f":392,"v":180.7},{"s":"P","f":394,"v":170.5},{"s":"P","f":396,"v":163.8},{"s":"P","f":397,"v":162.4},
{"s":"R","f":0,"v":208.6},{"s":"R","f":5,"v":206.7},{"s":"R","f":10,"v":205.9},{"s":"R","f":14,"v":207.2},{"s":"R","f":17,"v":207.2},{"s":"R","f":19,"v":206.4},{"s":"R","f":22,"v":201.7},{"s":"R","f":23,"v":193.5},{"s":"R","f":25,"v":188.8},{"s":"R","f":27,"v":188.1},{"s":"R","f":29,"v":184.1},{"s":"R","f":31,"v":181.4},{"s":"R","f":32,"v":179.0},{"s":"R","f":34,"v":184.1},{"s":"R","f":35,"v":180.0},{"s":"R","f":37,"v":176.0},{"s":"R","f":39,"v":174.6},{"s":"R","f":42,"v":173.6},{"s":"R","f":45,"v":171.6},{"s":"R","f":47,"v":170.2},{"s":"R","f":49,"v":170.5},{"s":"R","f":51,"v":179.7},{"s":"R","f":53,"v":177.3},{"s":"R","f":55,"v":171.9},{"s":"R","f":57,"v":173.2},{"s":"R","f":59,"v":174.6},{"s":"R","f":61,"v":172.9},{"s":"R","f":63,"v":174.6},{"s":"R","f":65,"v":177.3},{"s":"R","f":67,"v":178.7},{"s":"R","f":71,"v":179.0},{"s":"R","f":74,"v":181.4},{"s":"R","f":75,"v":186.8},{"s":"R","f":77,"v":182.0},{"s":"R","f":79,"v":180.0},{"s":"R","f":82,"v":179.9},{"s":"R","f":86,"v":180.0},{"s":"R","f":91,"v":179.7},{"s":"R","f":94,"v":178.0},{"s":"R","f":96,"v":177.6},{"s":"R","f":97,"v":186.8},{"s":"R","f":99,"v":183.4},{"s":"R","f":101,"v":180.7},{"s":"R","f":104,"v":178.0},{"s":"R","f":106,"v":177.0},{"s":"R","f":109,"v":178.7},{"s":"R","f":113,"v":178.7},{"s":"R","f":116,"v":177.3},{"s":"R","f":118,"v":174.6},{"s":"R","f":120,"v":166.5},{"s":"R","f":122,"v":161.1},{"s":"R","f":124,"v":158.4},{"s":"R","f":126,"v":157.1},{"s":"R","f":128,"v":161.1},{"s":"R","f":130,"v":168.5},{"s":"R","f":132,"v":173.9},{"s":"R","f":134,"v":176.6},{"s":"R","f":137,"v":179.7},{"s":"R","f":139,"v":181.4},{"s":"R","f":142,"v":181.4},{"s":"R","f":144,"v":185.4},{"s":"R","f":146,"v":184.1},{"s":"R","f":148,"v":182.7},{"s":"R","f":151,"v":186.8},{"s":"R","f":154,"v":189.5},{"s":"R","f":156,"v":190.5},{"s":"R","f":159,"v":191.2},{"s":"R","f":161,"v":189.5},{"s":"R","f":163,"v":186.8},{"s":"R","f":164,"v":185.4},{"s":"R","f":166,"v":190.2},{"s":"R","f":168,"v":193.5},{"s":"R","f":170,"v":194.6},{"s":"R","f":173,"v":193.2},{"s":"R","f":175,"v":202.3},{"s":"R","f":177,"v":203.0},{"s":"R","f":178,"v":199.0},{"s":"R","f":180,"v":192.9},{"s":"R","f":182,"v":188.1},{"s":"R","f":184,"v":184.1},{"s":"R","f":186,"v":180.7},{"s":"R","f":187,"v":180.0},{"s":"R","f":189,"v":184.1},{"s":"R","f":192,"v":182.0},{"s":"R","f":195,"v":180.3},{"s":"R","f":197,"v":179.7},{"s":"R","f":199,"v":183.4},{"s":"R","f":202,"v":184.8},{"s":"R","f":205,"v":183.7},{"s":"R","f":208,"v":183.1},{"s":"R","f":211,"v":188.1},{"s":"R","f":214,"v":195.6},{"s":"R","f":216,"v":202.3},{"s":"R","f":218,"v":201.7},{"s":"R","f":220,"v":196.9},{"s":"R","f":223,"v":194.9},{"s":"R","f":226,"v":193.9},{"s":"R","f":229,"v":193.0},{"s":"R","f":231,"v":199.0},{"s":"R","f":232,"v":196.9},{"s":"R","f":234,"v":190.8},{"s":"R","f":236,"v":184.8},{"s":"R","f":238,"v":180.0},{"s":"R","f":241,"v":176.0},{"s":"R","f":244,"v":173.6},{"s":"R","f":246,"v":172.2},{"s":"R","f":248,"v":171.9},{"s":"R","f":251,"v":178.0},{"s":"R","f":253,"v":180.7},{"s":"R","f":255,"v":177.3},{"s":"R","f":258,"v":178.3},{"s":"R","f":261,"v":179.7},{"s":"R","f":264,"v":180.4},{"s":"R","f":267,"v":177.0},{"s":"R","f":270,"v":172.9},{"s":"R","f":273,"v":176.0},{"s":"R","f":276,"v":181.4},{"s":"R","f":279,"v":185.4},{"s":"R","f":283,"v":187.8},{"s":"R","f":286,"v":187.5},{"s":"R","f":290,"v":186.8},{"s":"R","f":293,"v":185.8},{"s":"R","f":295,"v":185.1},{"s":"R","f":297,"v":192.2},{"s":"R","f":299,"v":191.5},{"s":"R","f":301,"v":184.1},{"s":"R","f":303,"v":177.3},{"s":"R","f":305,"v":173.2},{"s":"R","f":307,"v":171.6},{"s":"R","f":308,"v":171.2},{"s":"R","f":311,"v":178.7},{"s":"R","f":313,"v":177.3},{"s":"R","f":315,"v":173.9},{"s":"R","f":317,"v":177.3},{"s":"R","f":319,"v":182.7},{"s":"R","f":321,"v":184.8},{"s":"R","f":323,"v":185.1},{"s":"R","f":326,"v":182.7},{"s":"R","f":328,"v":180.7},{"s":"R","f":331,"v":183.1},{"s":"R","f":334,"v":181.4},{"s":"R","f":336,"v":179.7},{"s":"R","f":338,"v":186.8},{"s":"R","f":340,"v":192.2},{"s":"R","f":342,"v":188.8},{"s":"R","f":344,"v":184.1},{"s":"R","f":346,"v":181.4},{"s":"R","f":348,"v":185.4},{"s":"R","f":349,"v":182.0},{"s":"R","f":351,"v":177.3},{"s":"R","f":355,"v":173.2},{"s":"R","f":357,"v":171.2},{"s":"R","f":359,"v":169.9},{"s":"R","f":361,"v":172.9},{"s":"R","f":363,"v":178.0},{"s":"R","f":365,"v":175.3},{"s":"R","f":367,"v":173.6},{"s":"R","f":370,"v":176.6},{"s":"R","f":373,"v":181.4},{"s":"R","f":376,"v":186.1},{"s":"R","f":379,"v":188.5},{"s":"R","f":382,"v":188.8},{"s":"R","f":386,"v":189.1},{"s":"R","f":388,"v":186.8},{"s":"R","f":390,"v":182.0},{"s":"R","f":392,"v":180.0},{"s":"R","f":394,"v":169.9},{"s":"R","f":396,"v":162.4},{"s":"R","f":397,"v":159.7}
]},
"vconcat":[
{"width":753,"height":335,"data":{"name":"top"},
"encoding":{"x":{"field":"f","type":"quantitative","scale":{"domain":[-19.85,416.85],"nice":false,"zero":false},"axis":{"values":[0,50,100,150,200,250,300,350,400]},"title":"Frame"},
"y":{"field":"v","type":"quantitative","scale":{"domain":[534,693.5],"nice":false,"zero":false},"axis":{"values":[540,560,580,600,620,640,660,680]},"title":"X Coordinate"},
"detail":{"field":"s","type":"nominal"}},
"layer":[
{"mark":{"type":"line","strokeWidth":1.6,"strokeDash":[1.6,2.6]},"encoding":{"color":{"field":"s","type":"nominal","scale":{"domain":["L1","L2","L3","L4"],"range":["#d23a6e","#35a84a","#2a2ad0","#0d6b3e"]},"legend":null}}},
{"mark":{"type":"line","strokeWidth":1.6,"strokeDash":[1.6,6.8],"strokeDashOffset":6.1},"encoding":{"color":{"field":"s","type":"nominal","scale":{"domain":["L1","L2","L3","L4"],"range":["#3cb44b","#48d1cc","#3b3be0","#111111"]},"legend":null}}}
],"resolve":{"scale":{"color":"independent"}}},
{"width":753,"height":335,"data":{"name":"bot"},
"encoding":{"x":{"field":"f","type":"quantitative","scale":{"domain":[-19.85,416.85],"nice":false,"zero":false},"axis":{"values":[0,50,100,150,200,250,300,350,400]},"title":"Frame"},
"y":{"field":"v","type":"quantitative","scale":{"domain":[153.8,221.9],"nice":false,"zero":false},"axis":{"values":[160,170,180,190,200,210,220]},"title":"Y Coordinate"},
"detail":{"field":"s","type":"nominal"}},
"layer":[
{"mark":{"type":"line","strokeWidth":1.6,"strokeDash":[1.6,2.6]},"encoding":{"color":{"field":"s","type":"nominal","scale":{"domain":["K","B","P","R"],"range":["#1a1a1a","#2f3fc8","#7a45b8","#d42a2a"]},"legend":null}}},
{"mark":{"type":"line","strokeWidth":1.6,"strokeDash":[1.6,6.8],"strokeDashOffset":6.1},"encoding":{"color":{"field":"s","type":"nominal","scale":{"domain":["K","B","P","R"],"range":["#c9a24a","#3ec43e","#3a4ad0","#8e2020"]},"legend":null}}}
],"resolve":{"scale":{"color":"independent"}}}
]}
